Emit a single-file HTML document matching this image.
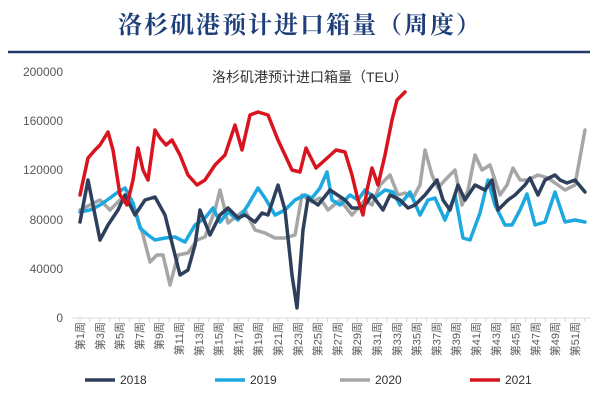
<!DOCTYPE html>
<html><head><meta charset="utf-8"><style>
body{margin:0;background:#fff;}
svg{display:block;font-family:"Liberation Sans","Noto Sans CJK SC",sans-serif;}
</style></head><body>
<svg width="600" height="415" viewBox="0 0 600 415" xmlns="http://www.w3.org/2000/svg">
<rect width="600" height="415" fill="#fff"/>
<text x="300" y="33" text-anchor="middle" font-family="'Noto Serif CJK SC',serif" font-size="24" font-weight="bold" fill="#1f3f7a" letter-spacing="2">洛杉矶港预计进口箱量（周度）</text>
<line x1="8" y1="52" x2="590" y2="52" stroke="#1f3a6a" stroke-width="2.5"/>
<text x="310" y="82" text-anchor="middle" font-size="14" fill="#333">洛杉矶港预计进口箱量（TEU）</text>
<g font-size="12" fill="#595959" text-anchor="end">
<text x="63" y="76">200000</text><text x="63" y="125">160000</text><text x="63" y="174">120000</text>
<text x="63" y="224">80000</text><text x="63" y="273">40000</text><text x="63" y="322">0</text>
</g>
<line x1="72" y1="318" x2="590" y2="318" stroke="#d9d9d9" stroke-width="1"/>
<g font-size="11" fill="#595959" id="xl"></g>
<g fill="none" stroke-width="3.5" stroke-linejoin="round" stroke-linecap="round">
<polyline stroke="#a6a6a6" points="80,210 90,205 100,200 110,210 120,200 128,195 135,210 143,235 150,262 157,255 163,255 170,285 178,255 188,253 197,240 205,237 215,210 220,190 228,223 238,215 245,210 255,230 265,233 275,238 285,238 295,235 302,195 312,202 320,198 328,210 340,200 352,215 365,200 372,205 380,185 390,175 398,195 405,193 413,198 420,185 425,150 432,175 438,188 445,180 455,170 462,205 468,190 475,155 482,170 490,165 500,195 507,185 513,168 520,180 528,180 538,175 548,178 558,185 565,190 575,185 585,130"/>
<polyline stroke="#1ca8e0" points="80,212 90,210 100,205 110,198 118,192 125,188 133,203 140,228 148,235 155,240 165,238 175,237 185,242 195,225 205,218 213,208 220,222 228,212 238,220 248,205 258,188 265,198 275,215 285,210 295,200 305,195 312,198 320,188 327,172 332,200 340,205 350,195 358,200 365,190 375,198 385,190 393,192 400,205 410,192 420,215 428,200 435,198 445,220 455,195 463,238 470,240 480,213 488,180 495,205 505,225 512,225 520,210 527,194 535,225 545,222 555,192 565,222 575,220 585,222"/>
<polyline stroke="#2e3f5c" points="80,222 88,180 100,240 108,225 118,210 125,195 135,215 145,200 155,197 165,215 175,255 180,275 188,270 195,245 200,210 210,235 220,215 228,208 238,218 245,215 255,222 262,213 268,215 278,185 285,210 292,275 297,308 303,230 308,198 318,205 330,190 345,200 352,208 360,208 365,205 372,195 383,210 390,195 400,200 408,208 415,205 425,195 437,180 443,200 450,210 458,185 465,200 475,185 485,190 492,180 498,210 508,200 515,195 525,185 530,178 538,195 545,180 555,175 560,180 567,183 575,180 585,192"/>
<polyline stroke="#d9141e" points="80,195 88,158 95,150 100,145 108,132 113,150 120,195 127,205 133,180 138,148 143,170 148,180 155,130 160,138 166,145 172,140 180,155 188,175 197,185 205,180 215,165 225,155 235,125 242,150 250,115 258,112 268,115 278,140 292,170 300,172 306,148 316,168 325,160 336,150 345,152 352,175 358,200 363,215 367,190 372,168 378,185 385,155 392,120 397,100 405,92"/>
</g>
<g font-size="12" fill="#333">
<line x1="85" y1="380" x2="115" y2="380" stroke="#2e3f5c" stroke-width="3.5"/><text x="120" y="384">2018</text>
<line x1="215" y1="380" x2="245" y2="380" stroke="#1ca8e0" stroke-width="3.5"/><text x="250" y="384">2019</text>
<line x1="340" y1="380" x2="370" y2="380" stroke="#a6a6a6" stroke-width="3.5"/><text x="375" y="384">2020</text>
<line x1="470" y1="380" x2="500" y2="380" stroke="#d9141e" stroke-width="3.5"/><text x="505" y="384">2021</text>
</g>
</svg>
<script>
var g=document.getElementById('xl'),s='';
for(var k=1;k<=52;k++){var x=80+(k-1)*9.9;
s+='<line x1="'+x+'" y1="318" x2="'+x+'" y2="322" stroke="#d9d9d9"/>';
if(k%2==1)s+='<text transform="translate('+(x+4)+',322) rotate(-90)" text-anchor="end">第'+k+'周</text>';}
g.innerHTML=s;
</script>
</body></html>
